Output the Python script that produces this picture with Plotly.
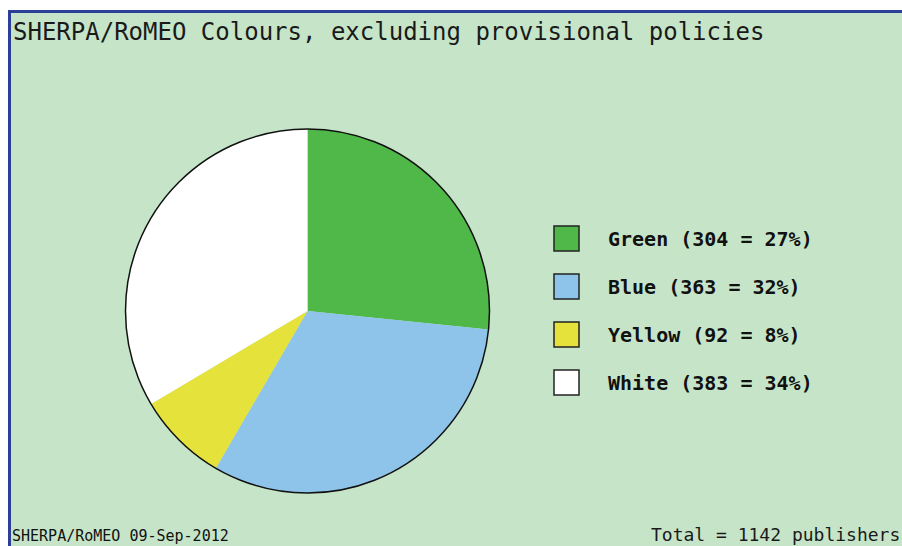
import plotly.graph_objects as go

labels = ["Green", "Blue", "Yellow", "White"]
values = [304, 363, 92, 383]
colors = ["#50b848", "#8ec4ea", "#e6e23c", "#ffffff"]
title_text = "SHERPA/RoMEO Colours, excluding provisional policies"
footer_left = "SHERPA/RoMEO 09-Sep-2012"
total_label = "publishers"

W, H = 902, 546
def px(x):
    return x / W
def py(y):
    return 1 - y / H

total = sum(values)

fig = go.Figure()
# pie centre (307.5, 311), radius 182
cx, cy, r = 307.5, 311, 182
dom_x = [px(cx - r), px(cx + r)]
dom_y = [py(cy + r), py(cy - r)]
fig.add_trace(go.Pie(
    labels=labels, values=values, sort=False, direction="clockwise", rotation=0,
    marker=dict(colors=colors, line=dict(width=0)),
    textinfo="none", hoverinfo="label+value+percent", showlegend=False,
    domain=dict(x=dom_x, y=dom_y),
))
fig.add_trace(go.Pie(
    labels=["outline"], values=[1], sort=False,
    marker=dict(colors=["rgba(0,0,0,0)"], line=dict(color="#111111", width=1.5)),
    textinfo="none", hoverinfo="skip", showlegend=False,
    domain=dict(x=dom_x, y=dom_y),
))

shapes = [
    dict(type="rect", xref="paper", yref="paper", x0=px(8), x1=px(W + 5), y0=py(H + 5), y1=py(10),
         fillcolor="#c6e5c8", line=dict(width=0), layer="below"),
    dict(type="line", xref="paper", yref="paper", x0=px(8), x1=px(W + 5), y0=py(11.5), y1=py(11.5),
         line=dict(color="#2b3f98", width=3)),
    dict(type="line", xref="paper", yref="paper", x0=px(9.5), x1=px(9.5), y0=py(10), y1=py(H + 5),
         line=dict(color="#2b3f98", width=3)),
]
annotations = [
    dict(text=title_text, x=px(11), y=py(32), xref="paper", yref="paper", xanchor="left",
         yanchor="middle", showarrow=False, font=dict(family="DejaVu Sans Mono", size=24, color="#1a1a1a")),
    dict(text=footer_left, x=px(10), y=py(536), xref="paper", yref="paper", xanchor="left",
         yanchor="middle", showarrow=False, font=dict(family="DejaVu Sans Mono", size=15, color="#111111")),
    dict(text=f"Total = {total} {total_label}", x=px(902), y=py(534), xref="paper", yref="paper",
         xanchor="right", yanchor="middle", showarrow=False,
         font=dict(family="DejaVu Sans Mono", size=18, color="#1a1a1a")),
]
for i, (lab, v, c) in enumerate(zip(labels, values, colors)):
    yc = 238.5 + 48 * i
    shapes.append(dict(type="rect", xref="paper", yref="paper", x0=px(554), x1=px(579),
                       y0=py(yc + 12.5), y1=py(yc - 12.5), fillcolor=c,
                       line=dict(color="#222222", width=1.5)))
    pct = round(100 * v / total)
    annotations.append(dict(text=f"{lab} ({v} = {pct}%)", x=px(606), y=py(yc), xref="paper", yref="paper",
                            xanchor="left", yanchor="middle", showarrow=False,
                            font=dict(family="DejaVu Sans Mono", size=20, color="#111111", weight="bold")))

fig.update_layout(
    width=W, height=H, margin=dict(l=0, r=0, t=0, b=0),
    paper_bgcolor="#ffffff", plot_bgcolor="#ffffff",
    shapes=shapes, annotations=annotations,
)
fig.write_html("out.html", config={"displayModeBar": False},
               post_script="document.body.style.margin='0';document.body.style.overflow='hidden';")
